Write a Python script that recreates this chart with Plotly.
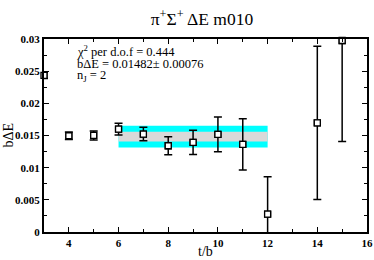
import plotly.graph_objects as go

t_vals = [3, 4, 5, 6, 7, 8, 9, 10, 11, 12, 14, 15]
dE_vals = [0.02435, 0.01496, 0.01501, 0.01599, 0.01522, 0.01341, 0.01393, 0.01517, 0.01362, 0.00279, 0.01697, 0.02977]
dE_errs = [0.0005, 0.0006, 0.0007, 0.0009, 0.00105, 0.0014, 0.0019, 0.0027, 0.004, 0.0058, 0.0119, 0.0157]

fit_t = [6, 12]
fit_value = 0.01482
fit_err = 0.00076
fit_outer_err = 0.00168
chi2_dof = 0.444
n_j = 2

x_ticks = [4, 6, 8, 10, 12, 14, 16]
y_ticks = [0, 0.005, 0.01, 0.015, 0.02, 0.025, 0.03]
y_tick_labels = ["0", "0.005", "0.01", "0.015", "0.02", "0.025", "0.03"]

SERIF = "Liberation Serif, Times New Roman, serif"
W, H = 374, 260
ML, MR, MT, MB = 43.5, 7.3, 38.5, 27.7
PW, PH = W - ML - MR, H - MT - MB


def px_x(px):
    return (px - ML) / PW


def px_y(py):
    return (H - MB - py) / PH


fig = go.Figure()


def band(lo, hi, color):
    x0, x1 = fit_t
    return go.Scatter(x=[x0, x1, x1, x0, x0], y=[lo, lo, hi, hi, lo], mode="lines",
                      fill="toself", fillcolor=color, line=dict(width=0),
                      hoverinfo="skip", showlegend=False)


fig.add_trace(band(fit_value - fit_outer_err, fit_value + fit_outer_err, "#00ffff"))
fig.add_trace(band(fit_value - fit_err, fit_value + fit_err, "#d9d9d9"))

fig.add_trace(go.Scatter(
    x=t_vals, y=dE_vals, mode="markers",
    error_y=dict(type="data", array=dE_errs, color="black", thickness=1.5, width=4),
    marker=dict(symbol="square", size=6, color="white", line=dict(color="black", width=1.3)),
    cliponaxis=True, showlegend=False))
fig.add_trace(go.Scatter(
    x=t_vals, y=dE_vals, mode="markers",
    marker=dict(symbol="square", size=6, color="white", line=dict(color="black", width=1.3)),
    cliponaxis=False, showlegend=False))

# info text block
ann_font = dict(family=SERIF, size=12.5, color="black")
texts = [f"χ<sup>2</sup> per d.o.f = {chi2_dof}",
         f"bΔE = {fit_value}± {fit_err:.5f}",
         f"n<sub>J</sub> = {n_j}"]
centers_px = [51, 63.5, 76]
for txt, cy in zip(texts, centers_px):
    fig.add_annotation(x=px_x(75), y=px_y(cy), xref="paper", yref="paper", text=txt,
                       showarrow=False, xanchor="left", yanchor="middle", font=ann_font)

# axis titles
fig.add_annotation(x=px_x(205), y=px_y(252), xref="paper", yref="paper", text="t/b",
                   showarrow=False, xanchor="center", yanchor="middle",
                   font=dict(family=SERIF, size=14, color="black"))
fig.add_annotation(x=px_x(8), y=px_y(135), xref="paper", yref="paper", text="bΔE",
                   showarrow=False, xanchor="center", yanchor="middle", textangle=-90,
                   font=dict(family=SERIF, size=14, color="black"))

axis_common = dict(showgrid=False, zeroline=False, showline=True, linecolor="black",
                   linewidth=2, mirror="ticks", ticks="inside", ticklen=5, tickwidth=1,
                   tickcolor="black", automargin=False,
                   tickfont=dict(family=SERIF, size=11, color="black", weight="bold"))

fig.update_xaxes(range=[3, 16], tickvals=x_ticks,
                 minor=dict(ticks="inside", dtick=1, ticklen=3, tickcolor="black", showgrid=False),
                 **axis_common)
fig.update_yaxes(range=[0, 0.03], tickvals=y_ticks, ticktext=y_tick_labels,
                 minor=dict(ticks="inside", dtick=0.0025, ticklen=3, tickcolor="black", showgrid=False),
                 **axis_common)

fig.update_layout(
    width=W, height=H,
    margin=dict(l=ML, r=MR, t=MT, b=MB, autoexpand=False),
    paper_bgcolor="white", plot_bgcolor="white",
    title=dict(text="π<sup>+</sup>Σ<sup>+</sup> ΔE m010", x=202 / W, xanchor="center",
               xref="container", yref="container", y=1 - 25 / H, yanchor="bottom",
               automargin=False,
               font=dict(family=SERIF, size=17.5, color="black")),
)

fig.write_html("out.html", config={"displayModeBar": False},
               post_script="document.body.style.margin='0px';document.body.style.padding='0px';")
